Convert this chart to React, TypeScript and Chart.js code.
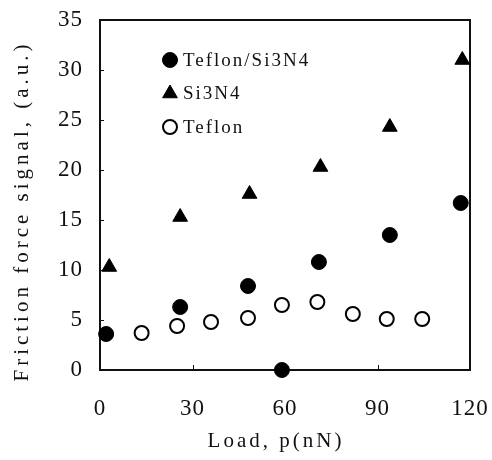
import { useEffect, useRef } from 'react';
import { Chart, registerables } from 'chart.js';
import { drawPoint } from 'chart.js/helpers';

Chart.register(...registerables);

const seriesNames = ['Teflon/Si3N4', 'Si3N4', 'Teflon'];
const teflonSi3N4Load = [2, 26, 48, 59, 71, 94, 117];
const teflonSi3N4Signal = [3.6, 6.3, 8.4, 0, 10.8, 13.5, 16.7];
const si3n4Load = [3, 26, 48.5, 71.5, 94, 117.5];
const si3n4Signal = [10.3, 15.3, 17.6, 20.3, 24.3, 31.0];
const teflonLoad = [13.5, 25, 36, 48, 59, 70.5, 82, 93, 104.5];
const teflonSignal = [3.7, 4.4, 4.8, 5.2, 6.5, 6.8, 5.6, 5.1, 5.1];
const xTickValues = [0, 30, 60, 90, 120];
const yTickValues = [0, 5, 10, 15, 20, 25, 30, 35];
const xTitle = 'Load, p(nN)';
const yTitle = 'Friction force signal, (a.u.)';

const INK = '#111';
const FONT = '"Liberation Serif", "DejaVu Serif", serif';

const zip = (xs: number[], ys: number[]) => xs.map((x, i) => ({ x, y: ys[i] }));

const framePlugin = {
  id: 'frame',
  beforeDraw(chart: any) {
    chart.ctx.letterSpacing = '1px';
  },
  beforeDatasetsDraw(chart: any) {
    const { ctx, chartArea: a, scales } = chart;
    ctx.save();
    ctx.letterSpacing = '0px';
    ctx.strokeStyle = INK;
    ctx.lineWidth = 2;
    ctx.strokeRect(a.left, a.top, a.right - a.left, a.bottom - a.top);
    ctx.lineWidth = 1;
    xTickValues.forEach((v) => {
      const px = Math.round(scales.x.getPixelForValue(v)) + 0.5;
      ctx.beginPath();
      ctx.moveTo(px, a.bottom);
      ctx.lineTo(px, a.bottom - 5);
      ctx.stroke();
    });
    yTickValues.forEach((v) => {
      const py = Math.round(scales.y.getPixelForValue(v)) + 0.5;
      ctx.beginPath();
      ctx.moveTo(a.left, py);
      ctx.lineTo(a.left + 4, py);
      ctx.stroke();
    });
    ctx.restore();
  },
  afterDraw(chart: any) {
    const { ctx } = chart;
    ctx.save();
    ctx.fillStyle = INK;
    // axis titles
    ctx.font = `21px ${FONT}`;
    ctx.letterSpacing = '3px';
    ctx.textAlign = 'center';
    ctx.textBaseline = 'middle';
    ctx.fillText(xTitle, 276, 441);
    ctx.save();
    ctx.translate(22, 211);
    ctx.rotate(-Math.PI / 2);
    ctx.letterSpacing = '4px';
    ctx.fillText(yTitle, 0, 0);
    ctx.restore();
    // legend
    ctx.font = `19px ${FONT}`;
    ctx.letterSpacing = '2px';
    ctx.textAlign = 'left';
    const ys = [60, 93.5, 127];
    chart.data.datasets.forEach((ds: any, i: number) => {
      ctx.save();
      ctx.fillStyle = ds.backgroundColor;
      ctx.strokeStyle = ds.borderColor;
      ctx.lineWidth = ds.borderWidth;
      drawPoint(ctx, { pointStyle: ds.pointStyle, radius: ds.pointRadius, rotation: 0, borderWidth: ds.borderWidth }, 170, ys[i]);
      ctx.restore();
      ctx.fillStyle = INK;
      ctx.fillText(ds.label, 183, ys[i] + 1);
    });
    ctx.restore();
  },
};

export default function App() {
  const ref = useRef<HTMLCanvasElement>(null);
  useEffect(() => {
    document.body.style.margin = '0';
    const chart = new Chart(ref.current!, {
      type: 'scatter',
      data: {
        datasets: [
          {
            label: seriesNames[0],
            data: zip(teflonSi3N4Load, teflonSi3N4Signal),
            pointStyle: 'circle',
            pointRadius: 7.5,
            backgroundColor: '#000',
            borderColor: '#000',
            borderWidth: 1,
          },
          {
            label: seriesNames[1],
            data: zip(si3n4Load, si3n4Signal),
            pointStyle: 'triangle',
            pointRadius: 8.5,
            backgroundColor: '#000',
            borderColor: '#000',
            borderWidth: 1,
          },
          {
            label: seriesNames[2],
            data: zip(teflonLoad, teflonSignal),
            pointStyle: 'circle',
            pointRadius: 7,
            backgroundColor: '#fff',
            borderColor: '#000',
            borderWidth: 2,
          },
        ],
      },
      options: {
        animation: false,
        responsive: false,
        clip: false as any,
        layout: { padding: { left: 0, right: 22, top: 20, bottom: 0 } },
        plugins: { legend: { display: false }, tooltip: { enabled: false } },
        elements: { point: { hoverRadius: 7 } },
        scales: {
          x: {
            type: 'linear',
            min: 0,
            max: 120,
            afterBuildTicks: (s: any) => { s.ticks = xTickValues.map((v) => ({ value: v })); },
            afterFit: (s: any) => { s.height = 90; s.paddingLeft = 0; s.paddingRight = 0; },
            grid: { display: false, drawTicks: false },
            border: { display: false },
            ticks: { color: INK, font: { family: FONT, size: 23 }, padding: 25, maxRotation: 0 },
          },
          y: {
            type: 'linear',
            min: 0,
            max: 35,
            afterBuildTicks: (s: any) => { s.ticks = yTickValues.map((v) => ({ value: v })); },
            afterFit: (s: any) => { s.width = 100; s.paddingTop = 0; s.paddingBottom = 0; },
            grid: { display: false, drawTicks: false },
            border: { display: false },
            ticks: { color: INK, font: { family: FONT, size: 23 }, padding: 17 },
          },
        },
      },
      plugins: [framePlugin],
    });
    return () => chart.destroy();
  }, []);
  return <canvas ref={ref} width={492} height={460} style={{ display: 'block' }} />;
}
